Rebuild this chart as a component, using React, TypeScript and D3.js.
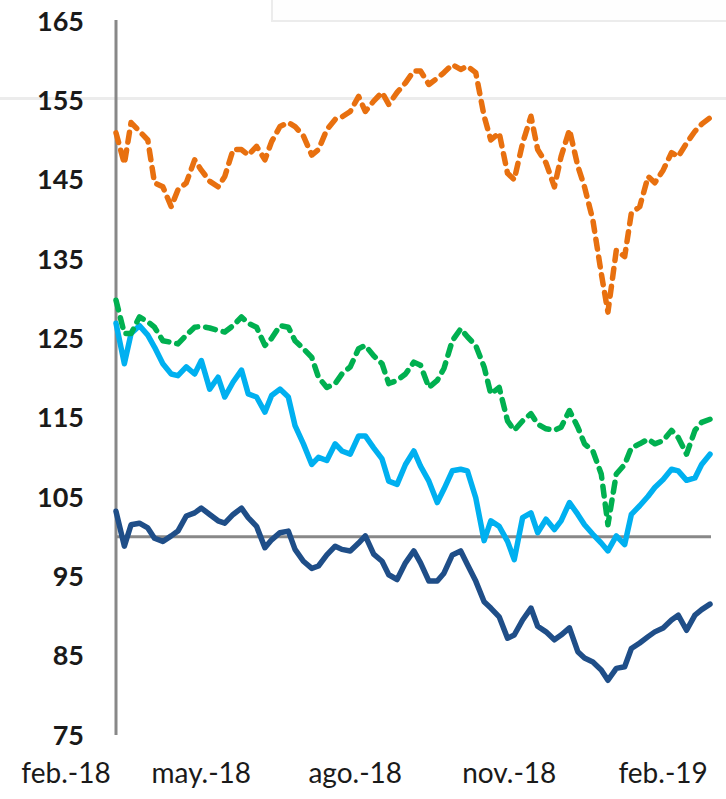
import React from 'react'
import * as d3 from 'd3'

const WIDTH = 726
const HEIGHT = 799

// every point is ~4.7 days apart, from mid-march 2018 to the start of march 2019
const START = new Date(2018, 2, 11)
const END = new Date(2019, 2, 1)
const N = 77
const dates = d3.range(N).map(i => d3.timeDay.offset(START, Math.round(i * 355 / (N - 1))))

const orange = [
  150.9, 147.0, 152.2, 151.1, 150.0, 144.6, 144.1, 141.6, 143.7, 144.6,
  147.5, 146.2, 144.8, 144.1, 145.4, 148.8, 148.8, 148.1, 149.2, 147.5,
  149.8, 151.7, 152.2, 151.7, 150.5, 148.1, 148.8, 151.3, 152.6, 152.9,
  153.6, 155.5, 153.6, 154.9, 156.0, 154.5, 156.0, 157.2, 158.7, 158.7,
  157.0, 157.8, 158.5, 159.5, 158.9, 159.3, 158.5, 153.0, 150.0, 150.9,
  145.8, 145.0, 149.6, 153.0, 148.8, 147.1, 144.1, 147.9, 151.3, 146.7,
  144.1, 139.9, 133.2, 128.3, 136.1, 135.3, 140.8, 141.6, 145.4, 144.6,
  146.2, 148.4, 147.9, 149.6, 151.1, 152.0, 152.8,
]

const green = [
  129.8, 125.6, 125.6, 127.7, 127.1, 126.4, 124.7, 124.5, 124.3, 125.4,
  126.4, 126.5, 126.3, 126.0, 125.8, 126.6, 127.7, 126.9, 126.4, 124.1,
  125.0, 126.6, 126.4, 124.7, 123.7, 122.6, 120.1, 118.8, 119.3, 120.5,
  121.4, 123.7, 124.1, 122.8, 121.8, 119.3, 119.7, 120.5, 122.0, 121.6,
  118.8, 119.7, 121.2, 124.7, 126.2, 125.2, 124.1, 121.4, 118.0, 118.8,
  114.6, 113.4, 114.6, 115.5, 114.2, 113.6, 113.4, 113.8, 115.9, 113.8,
  111.7, 110.8, 107.9, 101.5, 107.9, 109.1, 111.2, 111.7, 112.3, 111.7,
  112.1, 113.4, 112.5, 110.4, 113.4, 114.4, 114.8,
]

const lightBlue = [
  126.9, 121.8, 125.6, 126.6, 125.4, 123.9, 121.8, 120.5, 120.3, 121.4,
  120.5, 122.2, 118.6, 120.1, 117.6, 119.5, 121.0, 118.0, 117.6, 115.7,
  117.8, 118.6, 117.6, 114.0, 111.7, 109.1, 110.0, 109.6, 111.7, 110.8,
  110.4, 112.7, 112.7, 111.2, 109.8, 107.0, 106.6, 109.1, 110.8, 108.9,
  107.0, 104.3, 106.0, 108.3, 108.5, 108.3, 104.9, 99.5, 102.0, 101.3,
  99.4, 97.1, 102.4, 103.0, 100.5, 102.2, 100.9, 102.0, 104.3, 102.8,
  101.5, 100.3, 99.2, 98.2, 100.1, 99.0, 102.8, 103.9, 105.1, 106.2,
  107.2, 108.5, 108.3, 107.1, 107.4, 109.1, 110.4,
]

const darkBlue = [
  103.2, 98.8, 101.5, 101.7, 101.1, 99.8, 99.4, 100.1, 100.7, 102.6,
  103.0, 103.6, 102.8, 102.0, 101.7, 102.8, 103.6, 102.4, 101.3, 98.6,
  99.6, 100.5, 100.7, 98.4, 96.9, 96.0, 96.3, 97.7, 98.8, 98.4,
  98.2, 99.2, 100.1, 97.8, 96.9, 95.2, 94.6, 96.7, 98.2, 96.7,
  94.4, 94.4, 95.4, 97.7, 98.2, 96.5, 94.4, 91.8, 91.0, 89.9,
  87.2, 87.6, 89.5, 91.0, 88.7, 88.0, 87.0, 87.6, 88.5, 85.5,
  84.7, 84.2, 83.2, 81.9, 83.4, 83.6, 85.9, 86.6, 87.4, 88.0,
  88.5, 89.5, 90.1, 88.2, 90.1, 90.8, 91.5,
]

const yTicks = [75, 85, 95, 105, 115, 125, 135, 145, 155, 165]
const xTicks = [new Date(2018, 1, 1), new Date(2018, 4, 1), new Date(2018, 7, 1), new Date(2018, 10, 1), new Date(2019, 1, 1)]
const xTickLabels = ['feb.-18', 'may.-18', 'ago.-18', 'nov.-18', 'feb.-19']
const BASE = 100

const series = [
  { name: 'lightBlue', values: lightBlue, color: '#00b0f0', dash: null },
  { name: 'darkBlue', values: darkBlue, color: '#1f4e88', dash: null },
  { name: 'green', values: green, color: '#00b050', dash: '10 8' },
  { name: 'orange', values: orange, color: '#e8700f', dash: '10 8' },
]

const LEFT = 116
const RIGHT = 710
const TOP = 21
const BOTTOM = 735

const App = () => {
  const x = d3.scaleTime().domain([START, END]).range([LEFT, RIGHT])
  const y = d3.scaleLinear().domain([75, 165]).range([BOTTOM, TOP])

  const linePath = d3.line<number>()
    .x((_, i) => x(dates[i]))
    .y(d => y(d))

  return (
    <svg width={WIDTH} height={HEIGHT} viewBox={`0 0 ${WIDTH} ${HEIGHT}`}
      style={{ position: 'absolute', left: 0, top: 0, background: '#ffffff' }}>
      {/* faint leftovers of the source layout */}
      <line x1={0} x2={WIDTH} y1={98.5} y2={98.5} style={{ stroke: '#ececec', strokeWidth: 3 }} />
      <rect x={272} y={-4} width={470} height={25} fill="#fefefe" style={{ stroke: '#ececec', strokeWidth: 2 }} />

      <g data-y-axis>
        <line x1={LEFT} x2={LEFT} y1={TOP - 1} y2={BOTTOM} style={{ stroke: '#888888', strokeWidth: 3 }} />
        {yTicks.map(t => (
          <text key={t} x={84} y={y(t)} dy="0.36em" textAnchor="end"
            style={{ fontFamily: 'Lato, sans-serif', fontWeight: 700, fontSize: 27, fill: '#1a1a1a' }}>
            {t}
          </text>
        ))}
      </g>

      <line x1={LEFT} x2={RIGHT + 1} y1={y(BASE)} y2={y(BASE)} style={{ stroke: '#888888', strokeWidth: 3 }} />

      <g data-x-axis>
        {xTicks.map((t, i) => (
          <text key={i} x={Math.max(x(t), 66)} y={783} textAnchor="middle"
            style={{ fontFamily: 'Lato, sans-serif', fontWeight: 400, fontSize: 28, fill: '#1a1a1a' }}>
            {xTickLabels[i]}
          </text>
        ))}
      </g>

      <g data-lines>
        {series.map(s => (
          <path key={s.name} d={linePath(s.values) || ''} style={{
            fill: 'none',
            stroke: s.color,
            strokeWidth: 5.5,
            strokeLinejoin: 'round',
            strokeLinecap: 'round',
            strokeDasharray: s.dash || undefined,
          }} />
        ))}
      </g>
    </svg>
  )
}

export default App
